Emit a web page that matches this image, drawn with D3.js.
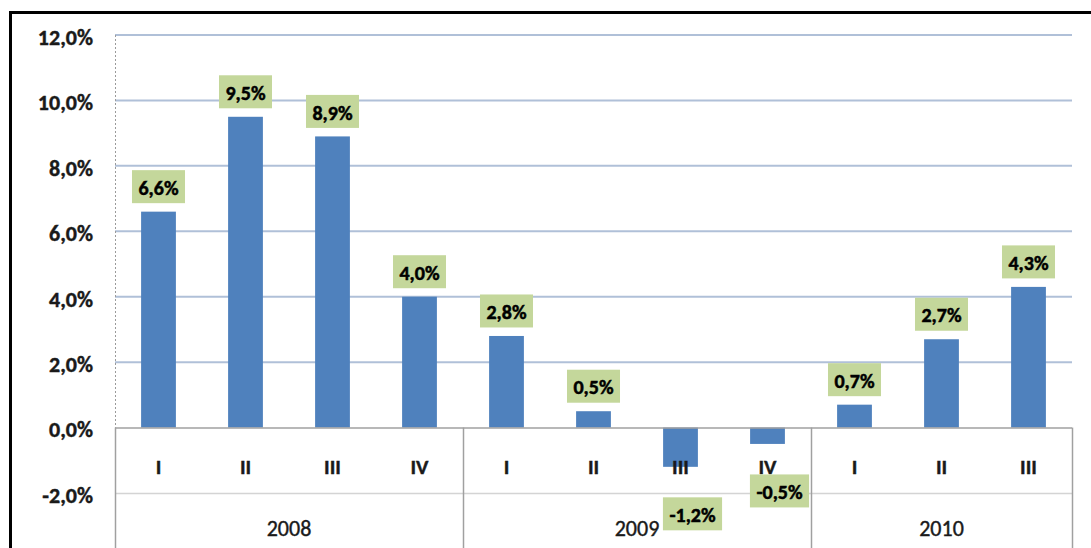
<!DOCTYPE html>
<html>
<head>
<meta charset="utf-8">
<script src="https://cdn.jsdelivr.net/npm/d3@7"></script>
<style>
  html, body { margin: 0; padding: 0; background: #fff; }
  svg { display: block; }
  text { font-family: Carlito, Lato, "Liberation Sans", sans-serif; }
</style>
</head>
<body>
<svg id="chart" width="1091" height="548"></svg>
<script>
// ---- data ----
const categories = ["I", "II", "III", "IV", "I", "II", "III", "IV", "I", "II", "III"];
const years = ["2008", "2009", "2010"];
const yearSizes = [4, 4, 3];
const values = [6.6, 9.5, 8.9, 4.0, 2.8, 0.5, -1.2, -0.5, 0.7, 2.7, 4.3];
const yTicks = [-2, 0, 2, 4, 6, 8, 10, 12];

(function () {
// ---- layout ----
const W = 1091, H = 548;
const pLeft = 115, pRight = 1072, pTop = 35, pBottom = 493;
const svg = d3.select("#chart");

const fmt = v => v.toFixed(1).replace(".", ",") + "%";

const x = d3.scaleBand().domain(d3.range(categories.length))
  .range([pLeft, pRight]).paddingInner(0.6).paddingOuter(0.3);
const y = d3.scaleLinear().domain([-2, 12]).range([pBottom, pTop]);
const step = x.step();
const gap = (step - x.bandwidth()) / 2;

// outer frame
svg.append("rect").attr("x", 10.5).attr("y", 12.5)
  .attr("width", W + 20).attr("height", H + 20)
  .attr("fill", "none").attr("stroke", "#000").attr("stroke-width", 3);

// gridlines (positive)
svg.append("g").selectAll("line").data(yTicks.filter(t => t > 0)).join("line")
  .attr("x1", pLeft).attr("x2", pRight)
  .attr("y1", d => y(d)).attr("y2", d => y(d))
  .attr("stroke", "#b0c0d8").attr("stroke-width", 2);

// dotted left axis above zero
svg.append("line").attr("x1", pLeft + 0.5).attr("x2", pLeft + 0.5)
  .attr("y1", y(12)).attr("y2", y(0))
  .attr("stroke", "#9a9a9a").attr("stroke-dasharray", "2,2");

// y tick labels
svg.append("g").selectAll("text").data(yTicks).join("text")
  .attr("x", 93).attr("y", d => y(d) + 2).attr("dy", "0.36em")
  .attr("text-anchor", "end")
  .attr("font-size", 22).attr("font-weight", "bold").attr("fill", "#1a1a1a")
  .attr("stroke", "#1a1a1a").attr("stroke-width", 0.4)
  .text(d => fmt(d));

// bars
svg.append("g").selectAll("rect").data(values).join("rect")
  .attr("x", (d, i) => x(i))
  .attr("width", x.bandwidth())
  .attr("y", d => y(Math.max(0, d)))
  .attr("height", d => Math.abs(y(d) - y(0)))
  .attr("fill", "#4f81bd");

// category table
const y0 = y(0);
svg.append("line").attr("x1", pLeft).attr("x2", pRight)
  .attr("y1", y(-2) + 0.5).attr("y2", y(-2) + 0.5)
  .attr("stroke", "#d4d4d4").attr("stroke-width", 1.5);
svg.append("line").attr("x1", pLeft).attr("x2", pRight)
  .attr("y1", y0 + 0.5).attr("y2", y0 + 0.5)
  .attr("stroke", "#a0a0a0").attr("stroke-width", 1.5);

let starts = [0];
yearSizes.forEach((s, i) => starts.push(starts[i] + s));
const bounds = starts.map(s => s < categories.length ? x(s) - gap : pRight);
svg.append("g").selectAll("line").data(bounds).join("line")
  .attr("x1", d => d + 0.5).attr("x2", d => d + 0.5)
  .attr("y1", y0).attr("y2", H + 5)
  .attr("stroke", "#a0a0a0").attr("stroke-width", 1.5);

// quarter labels
svg.append("g").selectAll("text").data(categories).join("text")
  .attr("x", (d, i) => x(i) + x.bandwidth() / 2)
  .attr("y", 466).attr("dy", "0.36em")
  .attr("text-anchor", "middle")
  .attr("font-size", 21).attr("font-weight", "bold").attr("fill", "#1a1a1a")
  .attr("stroke", "#1a1a1a").attr("stroke-width", 0.4)
  .text(d => d);

// year labels
svg.append("g").selectAll("text").data(years).join("text")
  .attr("x", (d, i) => (bounds[i] + bounds[i + 1]) / 2)
  .attr("y", 528).attr("dy", "0.36em")
  .attr("text-anchor", "middle")
  .attr("font-size", 22).attr("fill", "#1a1a1a")
  .attr("stroke", "#1a1a1a").attr("stroke-width", 0.4)
  .text(d => d);

// data labels
const lg = svg.append("g");
values.forEach((v, i) => {
  const cx = x(i) + x.bandwidth() / 2 + (v < 0 ? 12 : 0);
  const cy = v >= 0 ? y(v) - 25 : y(v) + 47;
  const g = lg.append("g");
  const rect = g.append("rect").attr("fill", "#c4d79b");
  const t = g.append("text").attr("x", cx).attr("y", cy + 1).attr("dy", "0.36em")
    .attr("text-anchor", "middle")
    .attr("font-size", 20).attr("font-weight", "bold").attr("fill", "#000")
    .attr("stroke", "#000").attr("stroke-width", 0.5)
    .text(fmt(v));
  const w = t.node().getComputedTextLength() + 13;
  const h = 33;
  rect.attr("x", cx - w / 2).attr("y", cy - h / 2).attr("width", w).attr("height", h);
});
})();
</script>
</body>
</html>
